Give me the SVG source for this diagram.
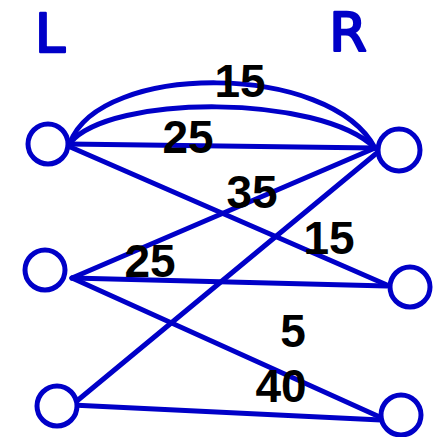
<svg xmlns="http://www.w3.org/2000/svg" width="438" height="437" viewBox="0 0 438 437">
<style>
.e{fill:none;stroke:#0000c8;stroke-width:5;stroke-linecap:round}
.n{fill:#fff;stroke:#0000c8;stroke-width:5}
.w{font-family:"Liberation Sans",Arial,sans-serif;font-weight:bold;font-size:46px;fill:#000;text-anchor:middle}
.s{font-family:"DejaVu Sans",sans-serif;font-size:54px;fill:#0000c8;stroke:#0000c8;stroke-width:2.5;stroke-linejoin:round;text-anchor:middle}
</style>
<rect width="438" height="437" fill="#fff"/>
<text class="s" x="50" y="52">L</text>
<text class="s" x="348" y="51">R</text>
<g id="connectors">
<path class="e" d="M70,143 C100,62 330,62 375,148"/>
<path class="e" d="M70,143 C110,94 320,94 375,148"/>
<path class="e" d="M68,144 L375,148"/>
<path class="e" d="M68,146 L387,285"/>
<path class="e" d="M72,278 L375,148"/>
<path class="e" d="M72,278 L387,286"/>
<path class="e" d="M72,278 L382,418"/>
<path class="e" d="M72,405 L378,152"/>
<path class="e" d="M72,405 L381,420"/>
</g>
<g id="L1"><circle class="n" cx="48" cy="144" r="20"/></g>
<g id="L2"><circle class="n" cx="45" cy="270" r="20"/></g>
<g id="L3"><circle class="n" cx="57" cy="406" r="20"/></g>
<g id="R1"><circle class="n" cx="399" cy="150" r="21"/></g>
<g id="R2"><circle class="n" cx="410" cy="287" r="20"/></g>
<g id="R3"><circle class="n" cx="401" cy="415" r="20"/></g>
<g id="labels">
<text class="w" x="240" y="97">15</text>
<text class="w" x="188" y="153">25</text>
<text class="w" x="252" y="208">35</text>
<text class="w" x="329" y="254">15</text>
<text class="w" x="150" y="277">25</text>
<text class="w" x="293" y="347">5</text>
<text class="w" x="281" y="402">40</text>
</g>
</svg>
